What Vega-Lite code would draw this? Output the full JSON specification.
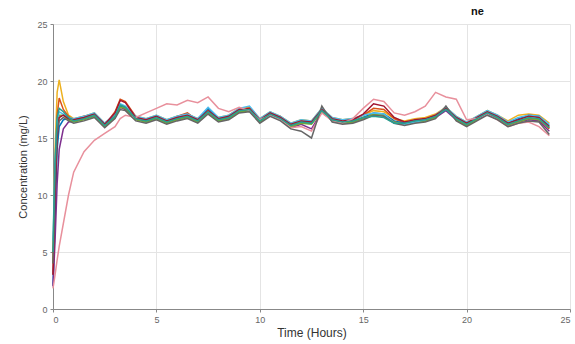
{
"$schema":"https://vega.github.io/schema/vega-lite/v6.json",
"width":517,"height":285,
"autosize":{"type":"none"},
"padding":{"left":53,"top":24,"right":5,"bottom":35},
"background":"white",
"title":{"text":"ne","anchor":"start","dx":453,"offset":3,"fontSize":11,"fontWeight":"bold","color":"#111","font":"Liberation Sans"},
"config":{"view":{"stroke":null},"font":"Liberation Sans"},
"data":{"values":[
{"s":"a","t":0,"c":5},{"s":"a","t":0.1,"c":14},{"s":"a","t":0.2,"c":19},{"s":"a","t":0.3,"c":20.1},{"s":"a","t":0.5,"c":18.2},{"s":"a","t":0.75,"c":17.0},{"s":"a","t":1,"c":16.7},{"s":"a","t":1.5,"c":16.9},{"s":"a","t":2,"c":17.2},{"s":"a","t":2.5,"c":16.3},{"s":"a","t":3,"c":17.0},{"s":"a","t":3.25,"c":17.9},{"s":"a","t":3.5,"c":17.7},{"s":"a","t":4,"c":16.9},{"s":"a","t":4.5,"c":16.7},{"s":"a","t":5,"c":17.0},{"s":"a","t":5.5,"c":16.6},{"s":"a","t":6,"c":16.9},{"s":"a","t":6.5,"c":17.1},{"s":"a","t":7,"c":16.7},{"s":"a","t":7.5,"c":17.5},{"s":"a","t":8,"c":16.8},{"s":"a","t":8.5,"c":17.0},{"s":"a","t":9,"c":17.6},{"s":"a","t":9.5,"c":17.7},{"s":"a","t":10,"c":16.7},{"s":"a","t":10.5,"c":17.3},{"s":"a","t":11,"c":16.9},{"s":"a","t":11.5,"c":16.3},{"s":"a","t":12,"c":16.6},{"s":"a","t":12.5,"c":16.5},{"s":"a","t":13,"c":17.6},{"s":"a","t":13.5,"c":16.8},{"s":"a","t":14,"c":16.6},{"s":"a","t":14.5,"c":16.7},{"s":"a","t":15,"c":17.0},{"s":"a","t":15.5,"c":17.4},{"s":"a","t":16,"c":17.3},{"s":"a","t":16.5,"c":16.7},{"s":"a","t":17,"c":16.5},{"s":"a","t":17.5,"c":16.7},{"s":"a","t":18,"c":16.8},{"s":"a","t":18.5,"c":17.1},{"s":"a","t":19,"c":17.7},{"s":"a","t":19.5,"c":16.9},{"s":"a","t":20,"c":16.4},{"s":"a","t":20.5,"c":16.9},{"s":"a","t":21,"c":17.4},{"s":"a","t":21.5,"c":17.0},{"s":"a","t":22,"c":16.5},{"s":"a","t":22.5,"c":17.0},{"s":"a","t":23,"c":17.1},{"s":"a","t":23.5,"c":17.0},{"s":"a","t":24,"c":16.3},
{"s":"b","t":0,"c":3},{"s":"b","t":0.1,"c":11},{"s":"b","t":0.2,"c":17},{"s":"b","t":0.3,"c":18.5},{"s":"b","t":0.5,"c":17.5},{"s":"b","t":0.75,"c":16.9},{"s":"b","t":1,"c":16.6},{"s":"b","t":1.5,"c":16.9},{"s":"b","t":2,"c":17.1},{"s":"b","t":2.5,"c":16.1},{"s":"b","t":3,"c":17.3},{"s":"b","t":3.25,"c":18.4},{"s":"b","t":3.5,"c":18.2},{"s":"b","t":4,"c":16.9},{"s":"b","t":4.5,"c":16.5},{"s":"b","t":5,"c":16.8},{"s":"b","t":5.5,"c":16.4},{"s":"b","t":6,"c":16.9},{"s":"b","t":6.5,"c":17.2},{"s":"b","t":7,"c":16.5},{"s":"b","t":7.5,"c":17.3},{"s":"b","t":8,"c":16.6},{"s":"b","t":8.5,"c":16.9},{"s":"b","t":9,"c":17.4},{"s":"b","t":9.5,"c":17.5},{"s":"b","t":10,"c":16.5},{"s":"b","t":10.5,"c":17.1},{"s":"b","t":11,"c":16.9},{"s":"b","t":11.5,"c":16.1},{"s":"b","t":12,"c":16.4},{"s":"b","t":12.5,"c":16.3},{"s":"b","t":13,"c":17.4},{"s":"b","t":13.5,"c":16.6},{"s":"b","t":14,"c":16.4},{"s":"b","t":14.5,"c":16.6},{"s":"b","t":15,"c":17.0},{"s":"b","t":15.5,"c":17.6},{"s":"b","t":16,"c":17.5},{"s":"b","t":16.5,"c":16.7},{"s":"b","t":17,"c":16.3},{"s":"b","t":17.5,"c":16.5},{"s":"b","t":18,"c":16.6},{"s":"b","t":18.5,"c":17.0},{"s":"b","t":19,"c":17.5},{"s":"b","t":19.5,"c":16.7},{"s":"b","t":20,"c":16.2},{"s":"b","t":20.5,"c":16.7},{"s":"b","t":21,"c":17.2},{"s":"b","t":21.5,"c":16.8},{"s":"b","t":22,"c":16.2},{"s":"b","t":22.5,"c":16.5},{"s":"b","t":23,"c":16.7},{"s":"b","t":23.5,"c":16.6},{"s":"b","t":24,"c":15.8},
{"s":"c","t":0,"c":2},{"s":"c","t":0.1,"c":8},{"s":"c","t":0.2,"c":14},{"s":"c","t":0.3,"c":16},{"s":"c","t":0.5,"c":16.6},{"s":"c","t":0.75,"c":16.7},{"s":"c","t":1,"c":16.5},{"s":"c","t":1.5,"c":16.7},{"s":"c","t":2,"c":17.0},{"s":"c","t":2.5,"c":16.2},{"s":"c","t":3,"c":16.9},{"s":"c","t":3.25,"c":17.8},{"s":"c","t":3.5,"c":17.6},{"s":"c","t":4,"c":16.7},{"s":"c","t":4.5,"c":16.5},{"s":"c","t":5,"c":16.8},{"s":"c","t":5.5,"c":16.4},{"s":"c","t":6,"c":16.7},{"s":"c","t":6.5,"c":16.9},{"s":"c","t":7,"c":16.6},{"s":"c","t":7.5,"c":17.6},{"s":"c","t":8,"c":16.7},{"s":"c","t":8.5,"c":16.8},{"s":"c","t":9,"c":17.4},{"s":"c","t":9.5,"c":17.5},{"s":"c","t":10,"c":16.5},{"s":"c","t":10.5,"c":17.1},{"s":"c","t":11,"c":16.7},{"s":"c","t":11.5,"c":16.1},{"s":"c","t":12,"c":16.4},{"s":"c","t":12.5,"c":16.3},{"s":"c","t":13,"c":17.4},{"s":"c","t":13.5,"c":16.6},{"s":"c","t":14,"c":16.4},{"s":"c","t":14.5,"c":16.5},{"s":"c","t":15,"c":16.8},{"s":"c","t":15.5,"c":17.2},{"s":"c","t":16,"c":17.1},{"s":"c","t":16.5,"c":16.5},{"s":"c","t":17,"c":16.3},{"s":"c","t":17.5,"c":16.5},{"s":"c","t":18,"c":16.6},{"s":"c","t":18.5,"c":16.9},{"s":"c","t":19,"c":17.5},{"s":"c","t":19.5,"c":16.7},{"s":"c","t":20,"c":16.2},{"s":"c","t":20.5,"c":16.7},{"s":"c","t":21,"c":17.2},{"s":"c","t":21.5,"c":16.8},{"s":"c","t":22,"c":16.3},{"s":"c","t":22.5,"c":16.7},{"s":"c","t":23,"c":17.0},{"s":"c","t":23.5,"c":16.9},{"s":"c","t":24,"c":16.1},
{"s":"d","t":0,"c":2},{"s":"d","t":0.1,"c":6},{"s":"d","t":0.2,"c":11},{"s":"d","t":0.3,"c":14},{"s":"d","t":0.5,"c":15.8},{"s":"d","t":0.75,"c":16.4},{"s":"d","t":1,"c":16.5},{"s":"d","t":1.5,"c":16.7},{"s":"d","t":2,"c":17.0},{"s":"d","t":2.5,"c":16.0},{"s":"d","t":3,"c":16.8},{"s":"d","t":3.25,"c":17.7},{"s":"d","t":3.5,"c":17.5},{"s":"d","t":4,"c":16.7},{"s":"d","t":4.5,"c":16.4},{"s":"d","t":5,"c":16.7},{"s":"d","t":5.5,"c":16.3},{"s":"d","t":6,"c":16.6},{"s":"d","t":6.5,"c":16.8},{"s":"d","t":7,"c":16.4},{"s":"d","t":7.5,"c":17.2},{"s":"d","t":8,"c":16.5},{"s":"d","t":8.5,"c":16.7},{"s":"d","t":9,"c":17.3},{"s":"d","t":9.5,"c":17.4},{"s":"d","t":10,"c":16.4},{"s":"d","t":10.5,"c":17.0},{"s":"d","t":11,"c":16.6},{"s":"d","t":11.5,"c":15.9},{"s":"d","t":12,"c":16.2},{"s":"d","t":12.5,"c":15.8},{"s":"d","t":13,"c":17.3},{"s":"d","t":13.5,"c":16.5},{"s":"d","t":14,"c":16.3},{"s":"d","t":14.5,"c":16.4},{"s":"d","t":15,"c":16.7},{"s":"d","t":15.5,"c":17.1},{"s":"d","t":16,"c":17.0},{"s":"d","t":16.5,"c":16.4},{"s":"d","t":17,"c":16.2},{"s":"d","t":17.5,"c":16.4},{"s":"d","t":18,"c":16.5},{"s":"d","t":18.5,"c":16.8},{"s":"d","t":19,"c":17.4},{"s":"d","t":19.5,"c":16.6},{"s":"d","t":20,"c":16.1},{"s":"d","t":20.5,"c":16.6},{"s":"d","t":21,"c":17.1},{"s":"d","t":21.5,"c":16.7},{"s":"d","t":22,"c":16.1},{"s":"d","t":22.5,"c":16.4},{"s":"d","t":23,"c":16.6},{"s":"d","t":23.5,"c":16.5},{"s":"d","t":24,"c":15.6},
{"s":"e","t":0,"c":4},{"s":"e","t":0.1,"c":12},{"s":"e","t":0.2,"c":16},{"s":"e","t":0.3,"c":17},{"s":"e","t":0.5,"c":17.0},{"s":"e","t":0.75,"c":16.6},{"s":"e","t":1,"c":16.4},{"s":"e","t":1.5,"c":16.6},{"s":"e","t":2,"c":16.9},{"s":"e","t":2.5,"c":16.0},{"s":"e","t":3,"c":16.8},{"s":"e","t":3.25,"c":17.7},{"s":"e","t":3.5,"c":17.6},{"s":"e","t":4,"c":16.6},{"s":"e","t":4.5,"c":16.4},{"s":"e","t":5,"c":16.7},{"s":"e","t":5.5,"c":16.3},{"s":"e","t":6,"c":16.6},{"s":"e","t":6.5,"c":16.8},{"s":"e","t":7,"c":16.4},{"s":"e","t":7.5,"c":17.2},{"s":"e","t":8,"c":16.5},{"s":"e","t":8.5,"c":16.7},{"s":"e","t":9,"c":17.3},{"s":"e","t":9.5,"c":17.4},{"s":"e","t":10,"c":16.4},{"s":"e","t":10.5,"c":17.0},{"s":"e","t":11,"c":16.6},{"s":"e","t":11.5,"c":16.0},{"s":"e","t":12,"c":16.3},{"s":"e","t":12.5,"c":16.2},{"s":"e","t":13,"c":17.3},{"s":"e","t":13.5,"c":16.5},{"s":"e","t":14,"c":16.3},{"s":"e","t":14.5,"c":16.4},{"s":"e","t":15,"c":16.7},{"s":"e","t":15.5,"c":17.1},{"s":"e","t":16,"c":17.0},{"s":"e","t":16.5,"c":16.4},{"s":"e","t":17,"c":16.2},{"s":"e","t":17.5,"c":16.4},{"s":"e","t":18,"c":16.5},{"s":"e","t":18.5,"c":16.8},{"s":"e","t":19,"c":17.7},{"s":"e","t":19.5,"c":16.6},{"s":"e","t":20,"c":16.1},{"s":"e","t":20.5,"c":16.6},{"s":"e","t":21,"c":17.4},{"s":"e","t":21.5,"c":16.7},{"s":"e","t":22,"c":16.1},{"s":"e","t":22.5,"c":16.4},{"s":"e","t":23,"c":16.7},{"s":"e","t":23.5,"c":16.6},{"s":"e","t":24,"c":15.9},
{"s":"f","t":0,"c":6},{"s":"f","t":0.1,"c":13},{"s":"f","t":0.2,"c":16.5},{"s":"f","t":0.3,"c":17.3},{"s":"f","t":0.5,"c":17.1},{"s":"f","t":0.75,"c":16.8},{"s":"f","t":1,"c":16.7},{"s":"f","t":1.5,"c":16.9},{"s":"f","t":2,"c":17.2},{"s":"f","t":2.5,"c":16.3},{"s":"f","t":3,"c":17.1},{"s":"f","t":3.25,"c":18.0},{"s":"f","t":3.5,"c":17.8},{"s":"f","t":4,"c":16.9},{"s":"f","t":4.5,"c":16.7},{"s":"f","t":5,"c":17.0},{"s":"f","t":5.5,"c":16.6},{"s":"f","t":6,"c":16.9},{"s":"f","t":6.5,"c":17.1},{"s":"f","t":7,"c":16.7},{"s":"f","t":7.5,"c":17.7},{"s":"f","t":8,"c":16.8},{"s":"f","t":8.5,"c":17.0},{"s":"f","t":9,"c":17.6},{"s":"f","t":9.5,"c":17.8},{"s":"f","t":10,"c":16.7},{"s":"f","t":10.5,"c":17.3},{"s":"f","t":11,"c":16.9},{"s":"f","t":11.5,"c":16.3},{"s":"f","t":12,"c":16.6},{"s":"f","t":12.5,"c":16.5},{"s":"f","t":13,"c":17.6},{"s":"f","t":13.5,"c":16.8},{"s":"f","t":14,"c":16.6},{"s":"f","t":14.5,"c":16.7},{"s":"f","t":15,"c":17.0},{"s":"f","t":15.5,"c":17.2},{"s":"f","t":16,"c":17.1},{"s":"f","t":16.5,"c":16.3},{"s":"f","t":17,"c":16.2},{"s":"f","t":17.5,"c":16.4},{"s":"f","t":18,"c":16.6},{"s":"f","t":18.5,"c":17.0},{"s":"f","t":19,"c":17.7},{"s":"f","t":19.5,"c":16.9},{"s":"f","t":20,"c":16.4},{"s":"f","t":20.5,"c":16.9},{"s":"f","t":21,"c":17.4},{"s":"f","t":21.5,"c":17.0},{"s":"f","t":22,"c":16.4},{"s":"f","t":22.5,"c":16.8},{"s":"f","t":23,"c":17.0},{"s":"f","t":23.5,"c":16.9},{"s":"f","t":24,"c":16.2},
{"s":"g","t":0,"c":3},{"s":"g","t":0.1,"c":10},{"s":"g","t":0.2,"c":15},{"s":"g","t":0.3,"c":16.8},{"s":"g","t":0.5,"c":17.0},{"s":"g","t":0.75,"c":16.7},{"s":"g","t":1,"c":16.6},{"s":"g","t":1.5,"c":16.8},{"s":"g","t":2,"c":17.1},{"s":"g","t":2.5,"c":16.2},{"s":"g","t":3,"c":17.2},{"s":"g","t":3.25,"c":18.3},{"s":"g","t":3.5,"c":18.1},{"s":"g","t":4,"c":16.8},{"s":"g","t":4.5,"c":16.6},{"s":"g","t":5,"c":16.9},{"s":"g","t":5.5,"c":16.5},{"s":"g","t":6,"c":16.8},{"s":"g","t":6.5,"c":17.0},{"s":"g","t":7,"c":16.6},{"s":"g","t":7.5,"c":17.4},{"s":"g","t":8,"c":16.7},{"s":"g","t":8.5,"c":16.9},{"s":"g","t":9,"c":17.5},{"s":"g","t":9.5,"c":17.6},{"s":"g","t":10,"c":16.6},{"s":"g","t":10.5,"c":17.2},{"s":"g","t":11,"c":16.8},{"s":"g","t":11.5,"c":16.2},{"s":"g","t":12,"c":16.5},{"s":"g","t":12.5,"c":16.4},{"s":"g","t":13,"c":17.5},{"s":"g","t":13.5,"c":16.7},{"s":"g","t":14,"c":16.5},{"s":"g","t":14.5,"c":16.6},{"s":"g","t":15,"c":17.1},{"s":"g","t":15.5,"c":18.0},{"s":"g","t":16,"c":17.8},{"s":"g","t":16.5,"c":16.8},{"s":"g","t":17,"c":16.4},{"s":"g","t":17.5,"c":16.6},{"s":"g","t":18,"c":16.7},{"s":"g","t":18.5,"c":17.0},{"s":"g","t":19,"c":17.6},{"s":"g","t":19.5,"c":16.8},{"s":"g","t":20,"c":16.3},{"s":"g","t":20.5,"c":16.8},{"s":"g","t":21,"c":17.3},{"s":"g","t":21.5,"c":16.9},{"s":"g","t":22,"c":16.3},{"s":"g","t":22.5,"c":16.6},{"s":"g","t":23,"c":16.9},{"s":"g","t":23.5,"c":16.8},{"s":"g","t":24,"c":16.0},
{"s":"h","t":0,"c":1.8},{"s":"h","t":0.1,"c":3},{"s":"h","t":0.2,"c":4.3},{"s":"h","t":0.3,"c":5.5},{"s":"h","t":0.5,"c":7.5},{"s":"h","t":0.75,"c":10},{"s":"h","t":1,"c":12},{"s":"h","t":1.5,"c":13.8},{"s":"h","t":2,"c":14.8},{"s":"h","t":2.5,"c":15.4},{"s":"h","t":3,"c":16.0},{"s":"h","t":3.25,"c":16.7},{"s":"h","t":3.5,"c":17.0},{"s":"h","t":4,"c":16.8},{"s":"h","t":4.5,"c":17.2},{"s":"h","t":5,"c":17.6},{"s":"h","t":5.5,"c":18.0},{"s":"h","t":6,"c":17.9},{"s":"h","t":6.5,"c":18.3},{"s":"h","t":7,"c":18.1},{"s":"h","t":7.5,"c":18.6},{"s":"h","t":8,"c":17.6},{"s":"h","t":8.5,"c":17.3},{"s":"h","t":9,"c":17.7},{"s":"h","t":9.5,"c":17.4},{"s":"h","t":10,"c":16.6},{"s":"h","t":10.5,"c":17.0},{"s":"h","t":11,"c":16.6},{"s":"h","t":11.5,"c":15.9},{"s":"h","t":12,"c":16.0},{"s":"h","t":12.5,"c":15.6},{"s":"h","t":13,"c":17.2},{"s":"h","t":13.5,"c":16.5},{"s":"h","t":14,"c":16.3},{"s":"h","t":14.5,"c":16.7},{"s":"h","t":15,"c":17.6},{"s":"h","t":15.5,"c":18.4},{"s":"h","t":16,"c":18.2},{"s":"h","t":16.5,"c":17.2},{"s":"h","t":17,"c":17.0},{"s":"h","t":17.5,"c":17.3},{"s":"h","t":18,"c":17.8},{"s":"h","t":18.5,"c":19.0},{"s":"h","t":19,"c":18.6},{"s":"h","t":19.5,"c":18.4},{"s":"h","t":20,"c":16.6},{"s":"h","t":20.5,"c":16.7},{"s":"h","t":21,"c":17.1},{"s":"h","t":21.5,"c":16.6},{"s":"h","t":22,"c":16.0},{"s":"h","t":22.5,"c":16.3},{"s":"h","t":23,"c":16.4},{"s":"h","t":23.5,"c":16.0},{"s":"h","t":24,"c":15.2},
{"s":"i","t":0,"c":4},{"s":"i","t":0.1,"c":12},{"s":"i","t":0.2,"c":15.5},{"s":"i","t":0.3,"c":16.5},{"s":"i","t":0.5,"c":16.8},{"s":"i","t":0.75,"c":16.5},{"s":"i","t":1,"c":16.3},{"s":"i","t":1.5,"c":16.5},{"s":"i","t":2,"c":16.8},{"s":"i","t":2.5,"c":15.9},{"s":"i","t":3,"c":16.7},{"s":"i","t":3.25,"c":17.5},{"s":"i","t":3.5,"c":17.4},{"s":"i","t":4,"c":16.5},{"s":"i","t":4.5,"c":16.3},{"s":"i","t":5,"c":16.6},{"s":"i","t":5.5,"c":16.2},{"s":"i","t":6,"c":16.5},{"s":"i","t":6.5,"c":16.7},{"s":"i","t":7,"c":16.3},{"s":"i","t":7.5,"c":17.1},{"s":"i","t":8,"c":16.4},{"s":"i","t":8.5,"c":16.6},{"s":"i","t":9,"c":17.2},{"s":"i","t":9.5,"c":17.3},{"s":"i","t":10,"c":16.3},{"s":"i","t":10.5,"c":16.9},{"s":"i","t":11,"c":16.5},{"s":"i","t":11.5,"c":15.8},{"s":"i","t":12,"c":15.6},{"s":"i","t":12.5,"c":15.0},{"s":"i","t":13,"c":17.8},{"s":"i","t":13.5,"c":16.4},{"s":"i","t":14,"c":16.2},{"s":"i","t":14.5,"c":16.3},{"s":"i","t":15,"c":16.6},{"s":"i","t":15.5,"c":17.0},{"s":"i","t":16,"c":16.9},{"s":"i","t":16.5,"c":16.3},{"s":"i","t":17,"c":16.1},{"s":"i","t":17.5,"c":16.3},{"s":"i","t":18,"c":16.4},{"s":"i","t":18.5,"c":16.7},{"s":"i","t":19,"c":17.8},{"s":"i","t":19.5,"c":16.5},{"s":"i","t":20,"c":16.0},{"s":"i","t":20.5,"c":16.5},{"s":"i","t":21,"c":17.0},{"s":"i","t":21.5,"c":16.6},{"s":"i","t":22,"c":16.0},{"s":"i","t":22.5,"c":16.3},{"s":"i","t":23,"c":16.5},{"s":"i","t":23.5,"c":16.4},{"s":"i","t":24,"c":15.3},
{"s":"j","t":0,"c":5},{"s":"j","t":0.1,"c":13},{"s":"j","t":0.2,"c":16.8},{"s":"j","t":0.3,"c":17.6},{"s":"j","t":0.5,"c":17.3},{"s":"j","t":0.75,"c":16.8},{"s":"j","t":1,"c":16.5},{"s":"j","t":1.5,"c":16.7},{"s":"j","t":2,"c":17.0},{"s":"j","t":2.5,"c":16.1},{"s":"j","t":3,"c":16.9},{"s":"j","t":3.25,"c":17.9},{"s":"j","t":3.5,"c":17.7},{"s":"j","t":4,"c":16.7},{"s":"j","t":4.5,"c":16.5},{"s":"j","t":5,"c":16.8},{"s":"j","t":5.5,"c":16.4},{"s":"j","t":6,"c":16.7},{"s":"j","t":6.5,"c":16.9},{"s":"j","t":7,"c":16.5},{"s":"j","t":7.5,"c":17.3},{"s":"j","t":8,"c":16.6},{"s":"j","t":8.5,"c":16.8},{"s":"j","t":9,"c":17.4},{"s":"j","t":9.5,"c":17.5},{"s":"j","t":10,"c":16.5},{"s":"j","t":10.5,"c":17.1},{"s":"j","t":11,"c":16.7},{"s":"j","t":11.5,"c":16.1},{"s":"j","t":12,"c":16.4},{"s":"j","t":12.5,"c":16.3},{"s":"j","t":13,"c":17.4},{"s":"j","t":13.5,"c":16.6},{"s":"j","t":14,"c":16.4},{"s":"j","t":14.5,"c":16.5},{"s":"j","t":15,"c":16.8},{"s":"j","t":15.5,"c":16.9},{"s":"j","t":16,"c":16.8},{"s":"j","t":16.5,"c":16.3},{"s":"j","t":17,"c":16.3},{"s":"j","t":17.5,"c":16.5},{"s":"j","t":18,"c":16.6},{"s":"j","t":18.5,"c":16.9},{"s":"j","t":19,"c":17.5},{"s":"j","t":19.5,"c":16.7},{"s":"j","t":20,"c":16.2},{"s":"j","t":20.5,"c":16.7},{"s":"j","t":21,"c":17.2},{"s":"j","t":21.5,"c":16.8},{"s":"j","t":22,"c":16.2},{"s":"j","t":22.5,"c":16.5},{"s":"j","t":23,"c":16.8},{"s":"j","t":23.5,"c":16.7},{"s":"j","t":24,"c":15.9}
]},
"mark":{"type":"line","strokeWidth":1.5},
"encoding":{
"x":{"field":"t","type":"quantitative","scale":{"domain":[0,25],"nice":false},
"axis":{"title":"Time (Hours)","values":[0,5,10,15,20,25],"grid":true,"gridColor":"#e4e4e4","domainColor":"#888","tickColor":"#888","tickSize":3,"labelColor":"#666","labelFontSize":9,"labelPadding":3,"titleFontSize":12,"titleFontWeight":"normal","titleColor":"#333","titlePadding":3}},
"y":{"field":"c","type":"quantitative","scale":{"domain":[0,25],"nice":false},
"axis":{"title":"Concentration (mg/L)","values":[0,5,10,15,20,25],"grid":true,"gridColor":"#e4e4e4","domainColor":"#888","tickColor":"#888","tickSize":3,"labelColor":"#666","labelFontSize":9,"labelPadding":3,"titleFontSize":11,"titleFontWeight":"normal","titleColor":"#333","titlePadding":8}},
"color":{"field":"s","type":"nominal","legend":null,
"scale":{"domain":["a","b","c","d","e","f","g","h","i","j"],"range":["#EDB120","#D95319","#0072BD","#7E2F8E","#77AC30","#4DBEEE","#A2142F","#E8909C","#666666","#2A9D8F"]}}
}
}
